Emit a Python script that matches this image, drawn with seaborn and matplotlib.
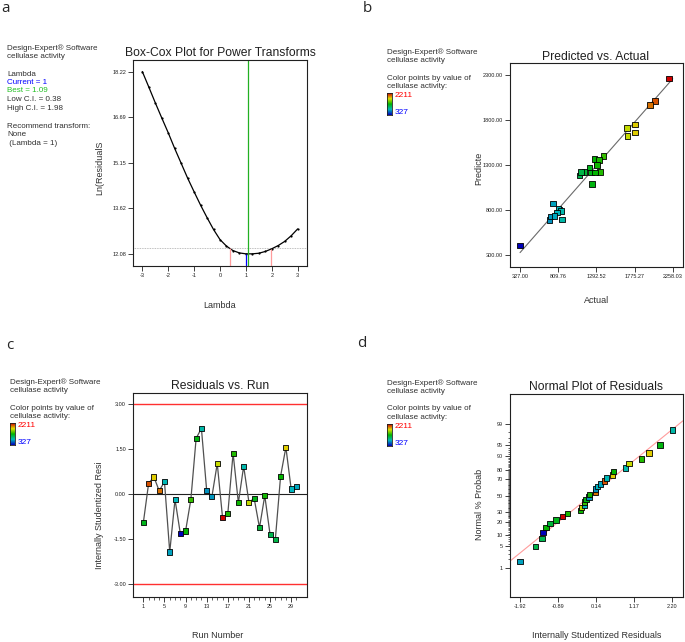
import numpy as np
import matplotlib
matplotlib.use("Agg")
import matplotlib.pyplot as plt
import seaborn as sns
from matplotlib.colors import LinearSegmentedColormap
from statistics import NormalDist

W, H = 685, 642

# a: Box-Cox plot
box_lambda = [-3.0, -2.75, -2.5, -2.25, -2.0, -1.75, -1.5, -1.25, -1.0, -0.75, -0.5, -0.25,
              0.0, 0.25, 0.5, 0.75, 1.0, 1.25, 1.5, 1.75, 2.0, 2.25, 2.5, 2.75, 3.0]
box_ln_ss = [18.22, 17.70, 17.17, 16.66, 16.16, 15.63, 15.13, 14.63, 14.17, 13.72, 13.30, 12.90,
             12.56, 12.34, 12.19, 12.11, 12.08, 12.08, 12.10, 12.16, 12.25, 12.36, 12.50, 12.69, 12.92]
lambda_current = 1
lambda_best = 1.09
lambda_low = 0.38
lambda_high = 1.98
ci_level = 12.26
box_xticks = [-3, -2, -1, 0, 1, 2, 3]
box_yticks = [12.08, 13.62, 15.15, 16.69, 18.22]

# b, c, d: per run values
run_no = list(range(1, 31))
actual = [1204, 2035, 1778, 1972, 824, 741, 812, 327, 1271, 1385,
          1237, 858, 698, 715, 1684, 2211, 1326, 1339, 1292, 846,
          1681, 1221, 1140, 1300, 1077, 1095, 1275, 1778, 791, 761]
predicted = [1270, 2011, 1748, 1967, 807, 874, 818, 404, 1367, 1397,
             1089, 696, 689, 726, 1622, 2263, 1356, 1222, 1308, 789,
             1708, 1219, 1222, 1303, 1181, 1222, 1219, 1663, 770, 733]
stud_resid = [-0.94, 0.37, 0.58, 0.12, 0.42, -1.92, -0.17, -1.30, -1.22, -0.17,
              1.87, 2.20, 0.12, -0.06, 1.03, -0.77, -0.64, 1.37, -0.28, 0.94,
              -0.26, -0.14, -1.11, -0.04, -1.33, -1.50, 0.61, 1.57, 0.18, 0.26]
color_low, color_high = 327, 2211

act_ticks = [327.00, 809.76, 1292.52, 1775.27, 2258.03]
pred_ticks = [300, 800, 1300, 1800, 2300]
run_ticks = [1, 5, 9, 13, 17, 21, 25, 29]
resid_limit = [-3.0, 0.0, 3.0]
resid_ticks = [-1.92, -0.89, 0.14, 1.17, 2.20]
prob_ticks = [1, 5, 10, 20, 30, 50, 70, 80, 90, 95, 99]

sns.set_style("white")
plt.rcParams['font.family'] = ['Liberation Sans', 'DejaVu Sans']

cmap = LinearSegmentedColormap.from_list(
    "de", ["#0000b8", "#00b8c0", "#00b400", "#e0e000", "#d00000"])

fig = plt.figure(figsize=(W / 100, H / 100), dpi=100)


def px_axes(x0, y0, x1, y1):
    return fig.add_axes([x0 / W, 1 - y1 / H, (x1 - x0) / W, (y1 - y0) / H])


def ftext(x, y, s, **kw):
    kw.setdefault("va", "center")
    fig.text(x / W, 1 - y / H, s, **kw)


def style(ax):
    for sp in ax.spines.values():
        sp.set_linewidth(0.8)
        sp.set_color("#202020")
    ax.tick_params(direction="out", length=3.5, width=0.6, labelsize=4, pad=1.5,
                   bottom=True, left=True, top=False, right=False, colors="#202020")
    ax.tick_params(which="minor", direction="out", length=1.8, width=0.5,
                   bottom=True, left=True, top=False, right=False)
    ax.set_xlabel("")
    ax.set_ylabel("")


def side_block(x, y, with_colorbar=True):
    ftext(x, y, "Design-Expert\u00ae Software", fontsize=5.8, color="#303030")
    ftext(x, y + 8.6, "cellulase activity", fontsize=5.8, color="#303030")
    if with_colorbar:
        ftext(x, y + 26, "Color points by value of", fontsize=5.8, color="#303030")
        ftext(x, y + 34.6, "cellulase activity:", fontsize=5.8, color="#303030")
        cax = px_axes(x, y + 41, x + 5, y + 63)
        cax.imshow(np.linspace(1, 0, 64)[:, None], cmap=cmap, aspect="auto")
        cax.set_xticks([])
        cax.set_yticks([])
        for sp in cax.spines.values():
            sp.set_linewidth(0.6)
            sp.set_color("#202020")
        ftext(x + 8, y + 43.5, str(color_high), fontsize=6, color="red")
        ftext(x + 8, y + 60.5, str(color_low), fontsize=6, color="blue")


# ---------- a ----------
ax = px_axes(133, 60, 307, 266)
ax.set_xlim(-3.36, 3.36)
ax.set_ylim(11.67, 18.61)
ax.axhline(ci_level, color="#a8a8a8", lw=0.6, ls=(0, (1, 1)))
sns.lineplot(x=box_lambda, y=box_ln_ss, ax=ax, color="black", lw=0.9,
             marker="o", markersize=1.6, markeredgewidth=0)
ybot = ax.get_ylim()[0]
ci_vals = np.interp([lambda_low, lambda_high], box_lambda, box_ln_ss)
ax.vlines([lambda_low, lambda_high], ybot, ci_vals, color="#ff9c9c", lw=0.9)
ax.vlines(lambda_current, ybot, np.interp(lambda_current, box_lambda, box_ln_ss),
          color="blue", lw=0.9)
ax.axvline(lambda_best, color="#22b022", lw=0.9)
ax.set_xticks(box_xticks)
ax.set_xticklabels([str(v) for v in box_xticks])
ax.set_yticks(box_yticks)
ax.set_yticklabels([f"{v:.2f}" for v in box_yticks])
style(ax)
ftext(220, 53, "Box-Cox Plot for Power Transforms", fontsize=8.7, ha="center", color="#202020")
ftext(100, 168, "Ln(ResidualS", fontsize=6.5, rotation=90, ha="center", color="#303030")
ftext(220, 306, "Lambda", fontsize=6.5, ha="center", color="#303030")

ftext(7, 48, "Design-Expert\u00ae Software", fontsize=5.8, color="#303030")
ftext(7, 56.6, "cellulase activity", fontsize=5.8, color="#303030")
ftext(7, 74, "Lambda", fontsize=5.8, color="#303030")
ftext(7, 82.5, "Current = 1", fontsize=5.8, color="blue")
ftext(7, 91, "Best = 1.09", fontsize=5.8, color="#22c022")
ftext(7, 99.6, "Low C.I. = 0.38", fontsize=5.8, color="#303030")
ftext(7, 108.2, "High C.I. = 1.98", fontsize=5.8, color="#303030")
ftext(7, 126, "Recommend transform:", fontsize=5.8, color="#303030")
ftext(7, 134.6, "None", fontsize=5.8, color="#303030")
ftext(7, 143.2, " (Lambda = 1)", fontsize=5.8, color="#303030")

# ---------- b ----------
ax = px_axes(510, 63, 683, 267)
ax.set_xlim(200, 2388)
ax.set_ylim(167, 2433)
sns.lineplot(x=[act_ticks[0], act_ticks[-1]], y=[act_ticks[0], act_ticks[-1]],
             ax=ax, color="#6a6a6a", lw=0.8)
sns.scatterplot(x=actual, y=predicted, hue=actual, palette=cmap,
                hue_norm=(color_low, color_high), marker="s", s=16,
                edgecolor="black", linewidth=0.6, legend=False, ax=ax, zorder=3)
ax.set_xticks(act_ticks)
ax.set_xticklabels([f"{v:.2f}" for v in act_ticks])
ax.set_yticks(pred_ticks)
ax.set_yticklabels([f"{v:.2f}" for v in pred_ticks])
style(ax)
ftext(596, 57, "Predicted vs. Actual", fontsize=8.7, ha="center", color="#202020")
ftext(479, 168, "Predicte", fontsize=6.5, rotation=90, ha="center", color="#303030")
ftext(597, 300, "Actual", fontsize=6.5, ha="center", color="#303030")
side_block(387, 52)

# ---------- c ----------
ax = px_axes(133, 393, 307, 597)
ax.set_xlim(-0.96, 32.0)
ax.set_ylim(-3.42, 3.38)
ax.axhline(resid_limit[0], color="#ff3030", lw=1.0)
ax.axhline(resid_limit[2], color="#ff3030", lw=1.0)
ax.axhline(resid_limit[1], color="#202020", lw=0.8)
sns.lineplot(x=run_no, y=stud_resid, ax=ax, color="#505050", lw=0.9)
sns.scatterplot(x=run_no, y=stud_resid, hue=actual, palette=cmap,
                hue_norm=(color_low, color_high), marker="s", s=13,
                edgecolor="black", linewidth=0.6, legend=False, ax=ax, zorder=3)
ax.set_xticks(run_ticks)
ax.set_xticklabels([str(v) for v in run_ticks])
ax.set_xticks(run_no, minor=True)
ax.set_yticks([-3, -1.5, 0, 1.5, 3])
ax.set_yticklabels(["-3.00", "-1.50", "0.00", "1.50", "3.00"])
style(ax)
ftext(220, 386, "Residuals vs. Run", fontsize=8.7, ha="center", color="#202020")
ftext(100, 515, "Internally Studentized Resi", fontsize=6.5, rotation=90, ha="center", color="#303030")
ftext(218, 635, "Run Number", fontsize=6.5, ha="center", color="#303030")
side_block(10, 382)

# ---------- d ----------
nd = NormalDist()
n = len(stud_resid)
order = np.argsort(stud_resid, kind="stable")
res_sorted = np.array(stud_resid)[order]
act_sorted = np.array(actual)[order]
z_pos = np.array([nd.inv_cdf((i + 0.5) / n) for i in range(n)])

ax = px_axes(510, 394, 683, 597)
ax.set_xlim(-2.19, 2.49)
ax.set_ylim(-3.28, 3.29)
slope, icpt = np.polyfit(res_sorted, z_pos, 1)
xl = np.array(ax.get_xlim())
sns.lineplot(x=xl, y=slope * xl + icpt, ax=ax, color="#ff9c9c", lw=0.8)
sns.scatterplot(x=res_sorted, y=z_pos, hue=act_sorted, palette=cmap,
                hue_norm=(color_low, color_high), marker="s", s=16,
                edgecolor="black", linewidth=0.6, legend=False, ax=ax, zorder=3)
ax.set_xticks(resid_ticks)
ax.set_xticklabels([f"{v:.2f}" for v in resid_ticks])
ax.set_yticks([nd.inv_cdf(p / 100) for p in prob_ticks])
ax.set_yticklabels([str(p) for p in prob_ticks])
ax.set_yticks([nd.inv_cdf(k / 100) for k in range(1, 100)], minor=True)
style(ax)
ax.tick_params(axis="x", which="minor", bottom=False)
ftext(596, 387, "Normal Plot of Residuals", fontsize=8.7, ha="center", color="#202020")
ftext(479, 504, "Normal % Probab", fontsize=6.5, rotation=90, ha="center", color="#303030")
ftext(597, 636, "Internally Studentized Residuals", fontsize=6.5, ha="center", color="#303030")
side_block(387, 383)

# panel letters
for letter, (lx, ly) in zip("abcd", [(5, 8), (367, 8), (10, 346), (362, 344)]):
    ftext(lx, ly, letter, fontsize=11, ha="center", family=["Open Sans", "DejaVu Sans"])

fig.savefig("out.png", dpi=100)
